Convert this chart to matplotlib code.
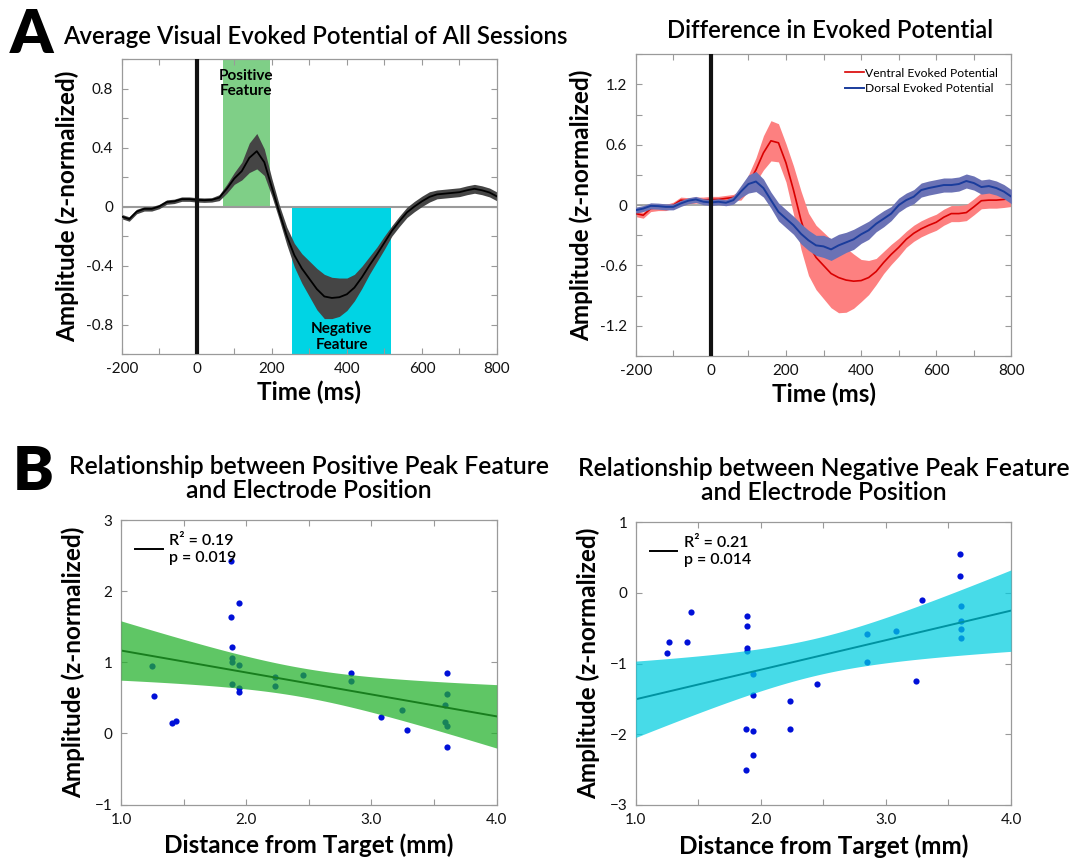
import numpy as np
import matplotlib.pyplot as plt

plt.rcParams['font.family'] = ['Lato', 'DejaVu Sans']

# ---- data: top-left average evoked potential (every 20 ms) ----
t_ms = np.arange(-200, 801, 20)
avg_mean = [-0.068, -0.085, -0.034, -0.016, -0.016, 0.0, 0.03, 0.035, 0.05, 0.05,
            0.045, 0.043, 0.045, 0.06, 0.12, 0.19, 0.24, 0.33, 0.375, 0.30,
            0.13, -0.04, -0.2, -0.33, -0.42, -0.49, -0.56, -0.61, -0.62, -0.615,
            -0.595, -0.55, -0.48, -0.40, -0.325, -0.245, -0.165, -0.1, -0.04, 0.0,
            0.035, 0.065, 0.082, 0.087, 0.092, 0.097, 0.11, 0.12, 0.11, 0.095, 0.068]
avg_err = [0.015, 0.015, 0.015, 0.015, 0.015, 0.015, 0.015, 0.015, 0.015, 0.015,
           0.015, 0.015, 0.015, 0.02, 0.03, 0.04, 0.06, 0.1, 0.12, 0.09,
           0.06, 0.05, 0.06, 0.08, 0.1, 0.12, 0.14, 0.15, 0.14, 0.13,
           0.11, 0.09, 0.075, 0.06, 0.05, 0.045, 0.035, 0.035, 0.035, 0.035,
           0.035, 0.035, 0.03, 0.03, 0.03, 0.03, 0.03, 0.03, 0.03, 0.03, 0.03]

# ---- data: top-right ventral vs dorsal ----
ventral_mean = [-0.084, -0.10, -0.034, -0.024, -0.024, 0.0, 0.05, 0.044, 0.05, 0.05,
                0.057, 0.057, 0.067, 0.077, 0.1, 0.22, 0.35, 0.52, 0.64, 0.62,
                0.42, 0.15, -0.15, -0.39, -0.52, -0.6, -0.68, -0.72, -0.745, -0.756,
                -0.75, -0.72, -0.66, -0.57, -0.49, -0.42, -0.34, -0.28, -0.235, -0.2,
                -0.17, -0.12, -0.084, -0.084, -0.074, -0.017, 0.044, 0.05, 0.05, 0.057, 0.067]
ventral_err = [0.03, 0.03, 0.03, 0.03, 0.03, 0.03, 0.03, 0.03, 0.03, 0.03,
               0.03, 0.03, 0.03, 0.03, 0.05, 0.08, 0.12, 0.17, 0.2, 0.19,
               0.19, 0.24, 0.29, 0.31, 0.32, 0.33, 0.34, 0.35, 0.32, 0.27,
               0.21, 0.17, 0.13, 0.11, 0.1, 0.09, 0.08, 0.08, 0.08, 0.08,
               0.08, 0.08, 0.08, 0.08, 0.08, 0.08, 0.08, 0.08, 0.08, 0.08, 0.08]
dorsal_mean = [-0.05, -0.034, -0.007, -0.01, -0.017, -0.017, 0.017, 0.044, 0.057, 0.034,
               0.027, 0.034, 0.024, 0.05, 0.135, 0.21, 0.235, 0.17, 0.05, -0.067,
               -0.134, -0.2, -0.285, -0.35, -0.4, -0.41, -0.44, -0.4, -0.37, -0.34,
               -0.29, -0.25, -0.185, -0.135, -0.084, 0.0, 0.05, 0.084, 0.15, 0.17,
               0.185, 0.2, 0.2, 0.21, 0.24, 0.22, 0.18, 0.19, 0.17, 0.135, 0.084]
dorsal_err = [0.03, 0.03, 0.03, 0.03, 0.03, 0.03, 0.03, 0.03, 0.03, 0.03,
              0.03, 0.03, 0.03, 0.04, 0.06, 0.09, 0.1, 0.09, 0.08, 0.09,
              0.09, 0.09, 0.1, 0.1, 0.1, 0.11, 0.11, 0.11, 0.1, 0.1,
              0.09, 0.09, 0.08, 0.08, 0.07, 0.07, 0.07, 0.07, 0.07, 0.07,
              0.07, 0.07, 0.07, 0.07, 0.07, 0.07, 0.07, 0.07, 0.07, 0.07, 0.07]

# ---- data: scatter panels ----
pos_dist = [1.245, 1.266, 1.405, 1.44, 1.876, 1.876, 1.886, 1.886, 1.886, 1.886,
            1.94, 1.94, 1.94, 1.94, 2.23, 2.23, 2.45, 2.84, 2.84, 3.08,
            3.24, 3.28, 3.6, 3.6, 3.59, 3.59, 3.6, 3.6]
pos_amp = [0.95, 0.52, 0.145, 0.178, 2.43, 1.64, 1.215, 1.065, 1.01, 0.70,
           1.83, 0.963, 0.636, 0.584, 0.794, 0.668, 0.822, 0.85, 0.738, 0.224,
           0.327, 0.05, 0.855, 0.55, 0.40, 0.154, 0.103, -0.187]
neg_dist = [1.248, 1.269, 1.408, 1.442, 1.887, 1.887, 1.887, 1.89, 1.94, 1.94,
            1.88, 1.94, 1.94, 1.88, 2.23, 2.23, 2.45, 2.846, 2.846, 3.084,
            3.24, 3.286, 3.595, 3.595, 3.603, 3.603, 3.603, 3.603]
neg_amp = [-0.854, -0.693, -0.693, -0.269, -0.33, -0.476, -0.783, -0.825, -1.15, -1.44,
           -1.925, -1.953, -2.30, -2.505, -1.533, -1.92, -1.283, -0.58, -0.976, -0.547,
           -1.25, -0.099, 0.552, 0.236, -0.189, -0.396, -0.519, -0.646]

GRAY = '#9a9a9a'
LABEL_FS = 17.5
TITLE_FS = 17.3


def style_axes(ax):
    for sp in ax.spines.values():
        sp.set_color(GRAY)
        sp.set_linewidth(0.9)
    ax.tick_params(direction='in', top=True, right=True, color=GRAY,
                   length=4, labelsize=11, labelcolor='#111111', pad=6)


def label_every_other(ticks, fmt):
    return [fmt(v) if i % 2 == 0 else '' for i, v in enumerate(ticks)]


fig = plt.figure(figsize=(10.74, 8.6), dpi=100)
W, H = 1074, 860


def axes_px(left, top, right, bottom):
    return fig.add_axes([left / W, 1 - bottom / H, (right - left) / W, (bottom - top) / H])


# ---------------- top left ----------------
ax1 = axes_px(121.7, 59, 497, 354)
t = t_ms
m = np.array(avg_mean)
e = np.array(avg_err)
ax1.axvspan(70, 195, ymin=0.5, ymax=1.0, color='#7fcf87', lw=0, zorder=0)
ax1.axvspan(255, 517, ymin=0.0, ymax=0.5, color='#00d4e4', lw=0, zorder=0)
ax1.axhline(0, color=GRAY, lw=1.5, zorder=1)
ax1.axvline(0, color='#111111', lw=3, zorder=4)
ax1.fill_between(t, m - e, m + e, color='#454545', lw=0, zorder=2)
ax1.plot(t, m, color='black', lw=1.3, zorder=3)
ax1.text(132, 0.835, 'Positive\nFeature', ha='center', va='center', fontsize=11,
         fontweight='bold', linespacing=1.15)
ax1.text(386, -0.885, 'Negative\nFeature', ha='center', va='center', fontsize=11,
         fontweight='bold', linespacing=1.15)
ax1.set_xlim(-200, 800)
ax1.set_ylim(-1, 1)
xt = np.arange(-200, 801, 100)
ax1.set_xticks(xt)
ax1.set_xticklabels(label_every_other(xt, lambda v: f'{v:d}'))
yt = np.round(np.arange(-1.0, 1.01, 0.2), 1)
ax1.set_yticks(yt)
ax1.set_yticklabels(['' if abs(v) in (1.0, 0.6, 0.2) else ('0' if v == 0 else f'{v:g}') for v in yt])
style_axes(ax1)
ax1.set_xlabel('Time (ms)', fontsize=LABEL_FS, fontweight='bold', labelpad=3)
ax1.set_ylabel('Amplitude (z-normalized)', fontsize=LABEL_FS, fontweight='bold', labelpad=5)

# ---------------- top right ----------------
ax2 = axes_px(635.7, 54.3, 1011.4, 356)
vm, ve = np.array(ventral_mean), np.array(ventral_err)
dm, de = np.array(dorsal_mean), np.array(dorsal_err)
ax2.axhline(0, color=GRAY, lw=1.2, zorder=1)
ax2.fill_between(t, vm - ve, vm + ve, color='#fd8080', lw=0, zorder=2)
ax2.plot(t, vm, color='#d90000', lw=1.2, zorder=3, label='Ventral Evoked Potential')
ax2.fill_between(t, dm - de, dm + de, color='#6b72b5', lw=0, zorder=4)
ax2.plot(t, dm, color='#1a3c9c', lw=1.4, zorder=5, label='Dorsal Evoked Potential')
ax2.axvline(0, color='#111111', lw=3, zorder=6)
ax2.set_xlim(-200, 800)
ax2.set_ylim(-1.5, 1.5)
ax2.set_xticks(xt)
ax2.set_xticklabels(label_every_other(xt, lambda v: f'{v:d}'))
yt2 = np.round(np.arange(-1.5, 1.51, 0.3), 1)
ax2.set_yticks(yt2)
ax2.set_yticklabels([('0' if v == 0 else f'{v:g}') if abs(round(v / 0.6) * 0.6 - v) < 1e-6 else '' for v in yt2])
style_axes(ax2)
ax2.legend(loc='upper right', frameon=False, fontsize=8.7, handlelength=1.6,
           handletextpad=0.1, labelspacing=0.4, borderaxespad=0.7)
ax2.set_xlabel('Time (ms)', fontsize=LABEL_FS, fontweight='bold', labelpad=3)
ax2.set_ylabel('Amplitude (z-normalized)', fontsize=LABEL_FS, fontweight='bold', labelpad=5)

fig.text(63 / W, 1 - 44 / H, 'Average Visual Evoked Potential of All Sessions',
         fontsize=TITLE_FS, fontweight='semibold', ha='left', va='baseline')
fig.text(830 / W, 1 - 38 / H, 'Difference in Evoked Potential',
         fontsize=TITLE_FS, fontweight='semibold', ha='center', va='baseline')


# ---------------- bottom scatter panels ----------------
def fit_band(x, y, xs):
    x = np.asarray(x)
    y = np.asarray(y)
    n = len(x)
    slope, icpt = np.polyfit(x, y, 1)
    resid = y - (icpt + slope * x)
    s = np.sqrt(np.sum(resid ** 2) / (n - 2))
    sxx = np.sum((x - x.mean()) ** 2)
    half = 2.056 * s * np.sqrt(1 / n + (xs - x.mean()) ** 2 / sxx)
    fit = icpt + slope * xs
    return fit, half


def scatter_panel(ax, x, y, band_col, stats, ylim, title):
    xs = np.linspace(1.0, 4.0, 200)
    fit, half = fit_band(x, y, xs)
    ax.scatter(x, y, s=20, color='#0010d8', lw=0, zorder=2)
    ax.plot(xs, fit, color='black', lw=1.4, zorder=2, label=stats)
    ax.fill_between(xs, fit - half, fit + half, color=band_col, alpha=0.72,
                    lw=0, zorder=3)
    ax.set_xlim(1.0, 4.0)
    ax.set_ylim(*ylim)
    xt3 = np.arange(1.0, 4.01, 0.5)
    ax.set_xticks(xt3)
    ax.set_xticklabels(label_every_other(xt3, lambda v: f'{v:.1f}'))
    ax.set_yticks(np.arange(ylim[0], ylim[1] + 1, 1))
    style_axes(ax)
    ax.legend(loc='upper left', frameon=False, handlelength=1.7, handletextpad=0.4,
              borderaxespad=0.5, prop={'size': 11.5, 'weight': 'semibold'})
    ax.set_xlabel('Distance from Target (mm)', fontsize=LABEL_FS, fontweight='bold', labelpad=5)
    ax.set_ylabel('Amplitude (z-normalized)', fontsize=LABEL_FS, fontweight='bold', labelpad=7)
    ax.set_title(title, fontsize=TITLE_FS + 0.4, fontweight='semibold', pad=16,
                 linespacing=1.05)


ax3 = axes_px(121, 520, 496.7, 804.5)
scatter_panel(ax3, pos_dist, pos_amp, '#22b02a', 'R² = 0.19\np = 0.019', (-1, 3),
              'Relationship between Positive Peak Feature\nand Electrode Position')

ax4 = axes_px(635.7, 522, 1011, 805)
scatter_panel(ax4, neg_dist, neg_amp, '#00cde0', 'R² = 0.21\np = 0.014', (-3, 1),
              'Relationship between Negative Peak Feature\nand Electrode Position')

fig.text(10 / W, 1 - 35 / H, 'A', fontsize=44, fontweight='heavy', va='center', ha='left')
fig.text(13 / W, 1 - 472 / H, 'B', fontsize=44, fontweight='heavy', va='center', ha='left')

fig.savefig('out.png', dpi=100)
